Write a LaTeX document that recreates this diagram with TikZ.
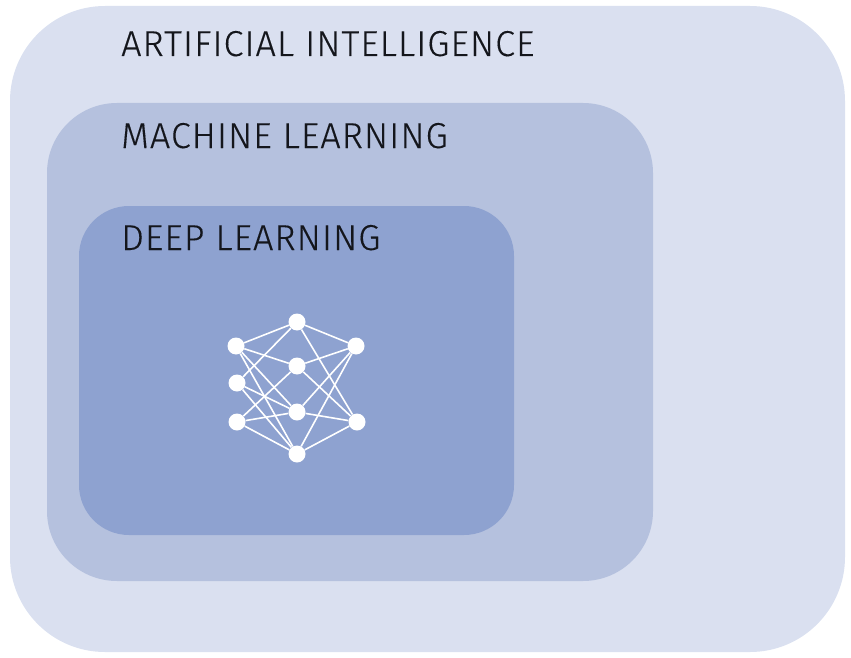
\documentclass[tikz,border=0pt]{standalone}
\usepackage{fontspec}
\setmainfont{Fira Sans Light}[LetterSpace=2.8,FakeBold=0.25]
\usetikzlibrary{positioning}
\definecolor{aifill}{HTML}{DAE0F0}
\definecolor{mlfill}{HTML}{B5C1DE}
\definecolor{dlfill}{HTML}{8EA2D0}
\definecolor{labelink}{HTML}{14161C}
\newcommand{\fieldname}[1]{\fontsize{36}{40}\selectfont #1}

\begin{document}
\begin{tikzpicture}[x=1pt, y=-1pt,
                    field/.style={inner sep=0pt, outer sep=0pt},
                    fieldlabel/.style={inner sep=0pt, anchor=base west, text=labelink},
                    neuron/.style={circle, fill=white, inner sep=0pt, minimum size=17pt},
                    synapse/.style={draw=white, line width=1.6pt}]

    \useasboundingbox (0,0) rectangle (851,658);

    % nested fields
    \node[field, fill=aifill, rounded corners=95pt, minimum width=835pt, minimum height=646pt] (ai) at (427.5,329) {};
    \node[field, fill=mlfill, rounded corners=70pt, minimum width=606pt, minimum height=478pt] (ml) at (350,342) {};
    \node[field, fill=dlfill, rounded corners=50pt, minimum width=435pt, minimum height=329pt] (dl) at (296.5,370.5) {};

    \node[fieldlabel] (ailabel) at (121,56)  {\fieldname{ARTIFICIAL INTELLIGENCE}};
    \node[fieldlabel] (mllabel) at (121,148) {\fieldname{MACHINE LEARNING}};
    \node[fieldlabel] (dllabel) at (121,250) {\fieldname{DEEP LEARNING}};

    % the small network
    \node[neuron] (a1) at (236,346) {};
    \node[neuron] (a2) at (237,383) {};
    \node[neuron] (a3) at (237,422) {};
    \node[neuron] (b1) at (297,322) {};
    \node[neuron] (b2) at (297,366) {};
    \node[neuron] (b3) at (297,412) {};
    \node[neuron] (b4) at (297,454) {};
    \node[neuron] (c1) at (356,346) {};
    \node[neuron] (c2) at (357,422) {};

    \foreach \from/\to in {a1/b1, a1/b2, a1/b3, a1/b4,
                           a2/b1, a2/b3, a2/b4,
                           a3/b2, a3/b3, a3/b4,
                           b1/c1, b1/c2, b2/c1, b2/c2,
                           b3/c1, b3/c2, b4/c1, b4/c2}
        \draw[synapse] (\from) -- (\to);
\end{tikzpicture}
\end{document}
